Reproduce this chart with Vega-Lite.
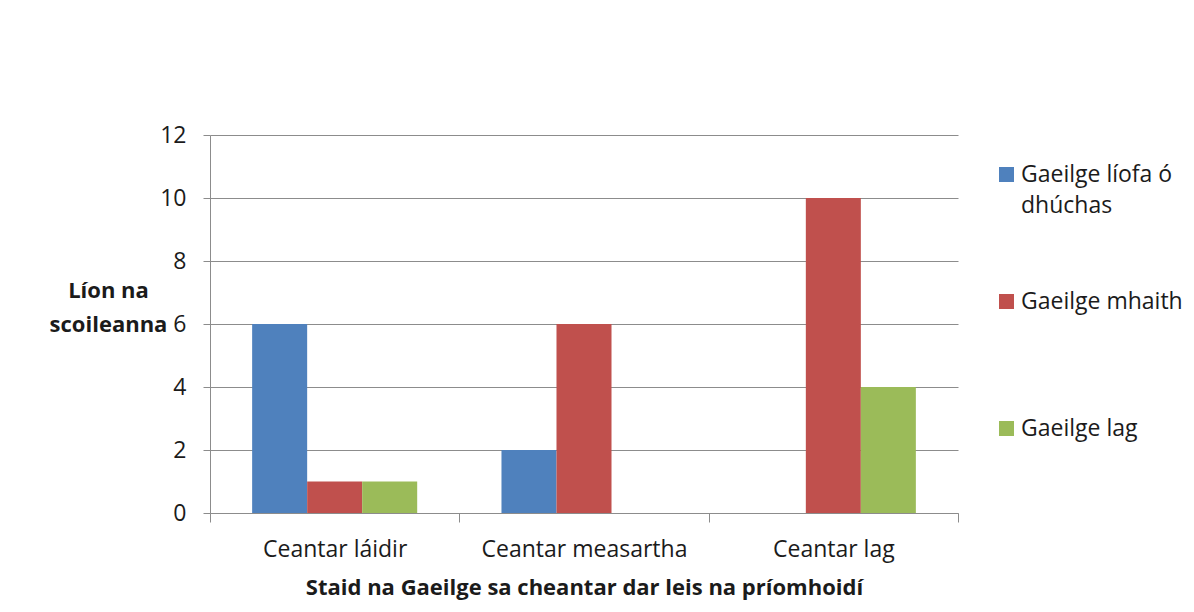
{
  "$schema": "https://vega.github.io/schema/vega-lite/v6.json",
  "width": 748,
  "height": 378,
  "autosize": "none",
  "padding": {"left": 210, "top": 135, "right": 236, "bottom": 99},
  "background": "white",
  "config": {
    "font": "Open Sans",
    "view": {"stroke": null}
  },
  "data": {
    "values": [
      {"ceantar": "Ceantar láidir", "leibheal": "Gaeilge líofa ó dhúchas", "lion": 6},
      {"ceantar": "Ceantar láidir", "leibheal": "Gaeilge mhaith", "lion": 1},
      {"ceantar": "Ceantar láidir", "leibheal": "Gaeilge lag", "lion": 1},
      {"ceantar": "Ceantar measartha", "leibheal": "Gaeilge líofa ó dhúchas", "lion": 2},
      {"ceantar": "Ceantar measartha", "leibheal": "Gaeilge mhaith", "lion": 6},
      {"ceantar": "Ceantar measartha", "leibheal": "Gaeilge lag", "lion": 0},
      {"ceantar": "Ceantar lag", "leibheal": "Gaeilge líofa ó dhúchas", "lion": 0},
      {"ceantar": "Ceantar lag", "leibheal": "Gaeilge mhaith", "lion": 10},
      {"ceantar": "Ceantar lag", "leibheal": "Gaeilge lag", "lion": 4}
    ]
  },
  "mark": {"type": "bar"},
  "encoding": {
    "x": {
      "field": "ceantar",
      "type": "nominal",
      "sort": ["Ceantar láidir", "Ceantar measartha", "Ceantar lag"],
      "scale": {"paddingInner": 0, "paddingOuter": 0},
      "axis": {
        "title": "Staid na Gaeilge sa cheantar dar leis na príomhoidí",
        "titleFont": "Open Sans",
        "titleFontSize": 22,
        "titleFontWeight": "bold",
        "titleColor": "#1b1b1b",
        "titleBaseline": "alphabetic",
        "titleY": 81,
        "labelAngle": 0,
        "labelFont": "Open Sans",
        "labelFontSize": 23,
        "labelColor": "#1b1b1b",
        "labelPadding": 16,
        "labelLimit": 300,
        "tickBand": "extent",
        "tickSize": 9,
        "tickColor": "#8c8c8c",
        "domainColor": "#8c8c8c",
        "grid": false
      }
    },
    "xOffset": {
      "field": "leibheal",
      "type": "nominal",
      "sort": ["Gaeilge líofa ó dhúchas", "Gaeilge mhaith", "Gaeilge lag"],
      "scale": {"paddingInner": 0, "paddingOuter": 0.766}
    },
    "y": {
      "field": "lion",
      "type": "quantitative",
      "scale": {"domain": [0, 12], "nice": false},
      "axis": {
        "values": [0, 2, 4, 6, 8, 10, 12],
        "title": ["Líon na", "scoileanna"],
        "titleAngle": 0,
        "titleAlign": "center",
        "titleBaseline": "alphabetic",
        "titleX": -102,
        "titleY": 162,
        "titleLineHeight": 34,
        "titleFont": "Open Sans",
        "titleFontSize": 22,
        "titleFontWeight": "bold",
        "titleColor": "#1b1b1b",
        "labelFont": "Open Sans",
        "labelFontSize": 23,
        "labelColor": "#1b1b1b",
        "labelPadding": 17,
        "tickSize": 7,
        "tickColor": "#8c8c8c",
        "domainColor": "#8c8c8c",
        "gridColor": "#8c8c8c",
        "gridOpacity": 1
      }
    },
    "color": {
      "field": "leibheal",
      "type": "nominal",
      "scale": {
        "domain": ["Gaeilge líofa ó dhúchas", "Gaeilge mhaith", "Gaeilge lag"],
        "range": ["#4f81bd", "#c0504d", "#9bbb59"]
      },
      "legend": {
        "orient": "none",
        "legendX": 785,
        "legendY": 28,
        "title": null,
        "symbolType": "square",
        "symbolSize": 225,
        "symbolStrokeWidth": 0,
        "symbolOpacity": 1,
        "labelFont": "Open Sans",
        "labelFontSize": 23,
        "labelColor": "#1b1b1b",
        "labelOffset": 3,
        "labelLimit": 300,
        "labelBaseline": "middle",
        "gridAlign": "all",
        "rowPadding": 72,
        "labelExpr": "datum.label == 'Gaeilge líofa ó dhúchas' ? ['Gaeilge líofa ó', 'dhúchas'] : datum.label",
        "encoding": {
          "labels": {"lineHeight": {"value": 31}}
        }
      }
    }
  }
}
